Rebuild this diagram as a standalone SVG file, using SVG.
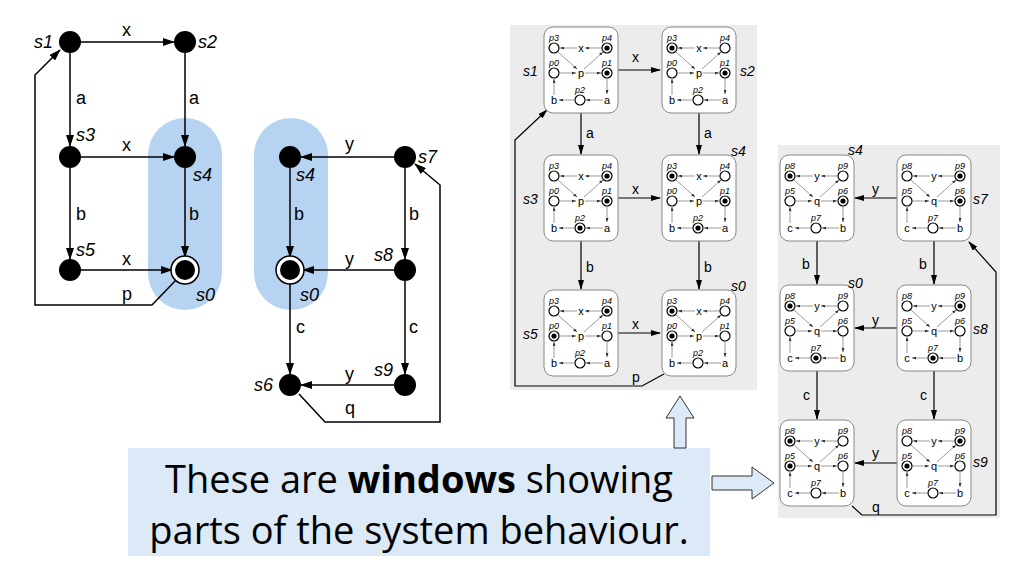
<svg xmlns="http://www.w3.org/2000/svg" xmlns:xlink="http://www.w3.org/1999/xlink" width="1024" height="576" viewBox="0 0 1024 576">
<style>
.l{font-family:"Liberation Sans",Arial,sans-serif;font-size:18px;fill:#000}
.si{font-family:"Liberation Sans",Arial,sans-serif;font-size:18px;font-style:italic;fill:#000}
.sm{font-family:"Liberation Sans",Arial,sans-serif;font-size:14px;fill:#000}
.smi{font-family:"Liberation Sans",Arial,sans-serif;font-size:14px;font-style:italic;fill:#000}
.t{font-family:"Liberation Sans",Arial,sans-serif;font-size:11px;fill:#000;text-anchor:middle}
.pl{font-family:"Liberation Sans",Arial,sans-serif;font-size:9px;font-style:italic;fill:#000;text-anchor:middle}
.e{stroke:#000;stroke-width:1.5;fill:none;marker-end:url(#ah)}
.e2{stroke:#000;stroke-width:1.2;fill:none;marker-end:url(#ah2)}
.ia{stroke:#555;stroke-width:0.6;fill:none;marker-end:url(#ai)}
.pc{fill:#fff;stroke:#000;stroke-width:1.2}
.box{fill:#fff;stroke:#888;stroke-width:1}
</style>
<defs>
<marker id="ah" markerWidth="12" markerHeight="8" refX="11" refY="4" orient="auto" markerUnits="userSpaceOnUse"><path d="M0,0L12,4L0,8z" fill="#000"/></marker>
<marker id="ah2" markerWidth="10" markerHeight="6" refX="9" refY="3" orient="auto" markerUnits="userSpaceOnUse"><path d="M0,0L10,3L0,6z" fill="#000"/></marker>
<marker id="ai" markerWidth="4" markerHeight="3" refX="4" refY="1.5" orient="auto" markerUnits="userSpaceOnUse"><path d="M0,0L4,1.5L0,3z" fill="#333"/></marker>
<g id="net">
<rect class="box" x="0" y="0" width="74" height="86" rx="9"/>
<circle class="pc" cx="10" cy="21" r="5"/><circle class="pc" cx="63" cy="21" r="5"/>
<circle class="pc" cx="10" cy="46" r="5"/><circle class="pc" cx="63" cy="46" r="5"/>
<circle class="pc" cx="36" cy="73" r="5"/>
<path class="ia" d="M58,21H41"/><path class="ia" d="M33,21H16"/>
<path class="ia" d="M14,25L33,42"/><path class="ia" d="M40,42L59,25"/>
<path class="ia" d="M16,46H32"/><path class="ia" d="M41,46H57"/>
<path class="ia" d="M63,51V67"/><path class="ia" d="M59,73H42"/><path class="ia" d="M30,73H15"/><path class="ia" d="M10,68V52"/>
</g>
<g id="netA">
<use xlink:href="#net"/>
<text class="pl" x="10" y="14">p3</text><text class="pl" x="63" y="14">p4</text>
<text class="pl" x="10" y="39">p0</text><text class="pl" x="63" y="39">p1</text><text class="pl" x="36" y="66">p2</text>
<text class="t" x="37" y="25">x</text><text class="t" x="37" y="50">p</text><text class="t" x="10" y="77">b</text><text class="t" x="63" y="77">a</text>
</g>
<g id="netB">
<use xlink:href="#net"/>
<text class="pl" x="10" y="14">p8</text><text class="pl" x="63" y="14">p9</text>
<text class="pl" x="10" y="39">p5</text><text class="pl" x="63" y="39">p6</text><text class="pl" x="36" y="66">p7</text>
<text class="t" x="37" y="25">y</text><text class="t" x="37" y="50">q</text><text class="t" x="10" y="77">c</text><text class="t" x="63" y="77">b</text>
</g>
<circle id="tk" r="2.6" fill="#000"/>
</defs>
<rect width="1024" height="576" fill="#fff"/>

<rect x="148" y="118" width="74" height="192" rx="37" fill="#a9cbee" opacity="0.85"/>
<rect x="254" y="118" width="74" height="192" rx="37" fill="#a9cbee" opacity="0.85"/>
<g id="conn-left">
<path class="e" d="M81,42H174"/><text class="l" x="122" y="36">x</text>
<path class="e" d="M70,53V146"/><text class="l" x="76" y="104">a</text>
<path class="e" d="M185,53V146"/><text class="l" x="189" y="104">a</text>
<path class="e" d="M81,157H174"/><text class="l" x="122" y="151">x</text>
<path class="e" d="M70,168V259"/><text class="l" x="76" y="220">b</text>
<path class="e" d="M185,168V257"/><text class="l" x="189" y="220">b</text>
<path class="e" d="M81,270H172"/><text class="l" x="122" y="265">x</text>
<path class="e" d="M176,280L152,305H35V75L60,50"/><text class="l" x="122" y="300">p</text>
<path class="e" d="M394,157H301"/><text class="l" x="345" y="150">y</text>
<path class="e" d="M405,168V259"/><text class="l" x="409" y="220">b</text>
<path class="e" d="M290,168V257"/><text class="l" x="294" y="220">b</text>
<path class="e" d="M394,270H303"/><text class="l" x="345" y="265">y</text>
<path class="e" d="M290,283V374"/><text class="l" x="296" y="333">c</text>
<path class="e" d="M405,281V374"/><text class="l" x="409" y="333">c</text>
<path class="e" d="M394,385H301"/><text class="l" x="345" y="380">y</text>
<path class="e" d="M299,394L325,422H440V185L415,164"/><text class="l" x="345" y="414">q</text>
</g>
<g id="s1"><circle cx="70" cy="42" r="11"/><text class="si" x="34" y="48">s1</text></g>
<g id="s2"><circle cx="185" cy="42" r="11"/><text class="si" x="198" y="48">s2</text></g>
<g id="s3"><circle cx="70" cy="157" r="11"/><text class="si" x="76" y="141">s3</text></g>
<g id="s4"><circle cx="185" cy="157" r="11"/><text class="si" x="193" y="181">s4</text></g>
<g id="s5"><circle cx="70" cy="270" r="11"/><text class="si" x="76" y="256">s5</text></g>
<g id="s0"><circle cx="185" cy="270" r="14" fill="#fff" stroke="#000" stroke-width="1.5"/><circle cx="185" cy="270" r="10"/><text class="si" x="196" y="301">s0</text></g>
<g id="s4b"><circle cx="290" cy="157" r="11"/><text class="si" x="296" y="181">s4</text></g>
<g id="s7"><circle cx="405" cy="157" r="11"/><text class="si" x="418" y="163">s7</text></g>
<g id="s0b"><circle cx="290" cy="270" r="14" fill="#fff" stroke="#000" stroke-width="1.5"/><circle cx="290" cy="270" r="10"/><text class="si" x="300" y="301">s0</text></g>
<g id="s8"><circle cx="405" cy="270" r="11"/><text class="si" x="374" y="261">s8</text></g>
<g id="s6"><circle cx="290" cy="385" r="11"/><text class="si" x="254" y="391">s6</text></g>
<g id="s9"><circle cx="405" cy="385" r="11"/><text class="si" x="374" y="376">s9</text></g>

<rect x="510" y="25" width="247" height="365" fill="#ececec"/>
<g id="conn-mid">
<path class="e2" d="M618,70H660"/><text class="sm" x="632" y="62">x</text>
<path class="e2" d="M581,113V154"/><text class="sm" x="586" y="138">a</text>
<path class="e2" d="M699,113V154"/><text class="sm" x="704" y="138">a</text>
<path class="e2" d="M618,198H660"/><text class="sm" x="632" y="194">x</text>
<path class="e2" d="M581,241V289"/><text class="sm" x="586" y="272">b</text>
<path class="e2" d="M699,241V289"/><text class="sm" x="704" y="272">b</text>
<path class="e2" d="M618,333H660"/><text class="sm" x="632" y="329">x</text>
<path class="e2" d="M664,374L642,386H515V140L547,110"/><text class="sm" x="632" y="382">p</text>
</g>
<g id="m-s1"><use xlink:href="#netA" x="544" y="27"/><use xlink:href="#tk" x="607" y="48"/><use xlink:href="#tk" x="607" y="73"/><text class="smi" x="523" y="76">s1</text></g>
<g id="m-s2"><use xlink:href="#netA" x="662" y="27"/><use xlink:href="#tk" x="672" y="48"/><use xlink:href="#tk" x="725" y="73"/><text class="smi" x="740" y="76">s2</text></g>
<g id="m-s3"><use xlink:href="#netA" x="544" y="155"/><use xlink:href="#tk" x="607" y="176"/><use xlink:href="#tk" x="607" y="201"/><use xlink:href="#tk" x="580" y="228"/><text class="smi" x="523" y="204">s3</text></g>
<g id="m-s4"><use xlink:href="#netA" x="662" y="155"/><use xlink:href="#tk" x="672" y="176"/><use xlink:href="#tk" x="725" y="201"/><use xlink:href="#tk" x="698" y="228"/><text class="smi" x="731" y="156">s4</text></g>
<g id="m-s5"><use xlink:href="#netA" x="544" y="290"/><use xlink:href="#tk" x="607" y="311"/><use xlink:href="#tk" x="554" y="336"/><text class="smi" x="523" y="339">s5</text></g>
<g id="m-s0"><use xlink:href="#netA" x="662" y="290"/><use xlink:href="#tk" x="672" y="311"/><use xlink:href="#tk" x="672" y="336"/><text class="smi" x="731" y="291">s0</text></g>

<rect x="778" y="145" width="222" height="373" fill="#ececec"/>
<g id="conn-right">
<path class="e2" d="M897,198H855"/><text class="sm" x="872" y="194">y</text>
<path class="e2" d="M817,241V284"/><text class="sm" x="802" y="269">b</text>
<path class="e2" d="M934,241V284"/><text class="sm" x="919" y="269">b</text>
<path class="e2" d="M897,328H855"/><text class="sm" x="872" y="325">y</text>
<path class="e2" d="M817,371V419"/><text class="sm" x="803" y="400">c</text>
<path class="e2" d="M934,371V419"/><text class="sm" x="920" y="400">c</text>
<path class="e2" d="M897,463H855"/><text class="sm" x="872" y="458">y</text>
<path class="e2" d="M852,506L862,515H996V272L969,242"/><text class="sm" x="872" y="512">q</text>
</g>
<g id="r-s4"><use xlink:href="#netB" x="780" y="155"/><use xlink:href="#tk" x="790" y="176"/><use xlink:href="#tk" x="843" y="201"/><text class="smi" x="848" y="155">s4</text></g>
<g id="r-s7"><use xlink:href="#netB" x="897" y="155"/><use xlink:href="#tk" x="960" y="176"/><use xlink:href="#tk" x="960" y="201"/><text class="smi" x="973" y="204">s7</text></g>
<g id="r-s0"><use xlink:href="#netB" x="780" y="285"/><use xlink:href="#tk" x="790" y="306"/><use xlink:href="#tk" x="816" y="358"/><text class="smi" x="848" y="288">s0</text></g>
<g id="r-s8"><use xlink:href="#netB" x="897" y="285"/><use xlink:href="#tk" x="960" y="306"/><use xlink:href="#tk" x="933" y="358"/><text class="smi" x="973" y="334">s8</text></g>
<g id="r-s6"><use xlink:href="#netB" x="780" y="420"/><use xlink:href="#tk" x="790" y="441"/><use xlink:href="#tk" x="790" y="466"/></g>
<g id="r-s9"><use xlink:href="#netB" x="897" y="420"/><use xlink:href="#tk" x="960" y="441"/><use xlink:href="#tk" x="907" y="466"/><text class="smi" x="973" y="467">s9</text></g>

<g id="callout">
<rect x="128" y="448" width="582" height="108" fill="#dce9f7"/>
<text font-family="'Open Sans','Noto Sans',sans-serif" font-size="38" x="419" y="493" text-anchor="middle">These are <tspan font-weight="bold">windows</tspan> showing</text>
<text font-family="'Open Sans','Noto Sans',sans-serif" font-size="38" x="419" y="544" text-anchor="middle">parts of the system behaviour.</text>
<path d="M674,448V418H666L680,396L694,418H686V448z" fill="#dce9f7" stroke="#333" stroke-width="1"/>
<path d="M712,476H752V467L774,483L752,499V490H712z" fill="#dce9f7" stroke="#333" stroke-width="1"/>
</g>
</svg>
